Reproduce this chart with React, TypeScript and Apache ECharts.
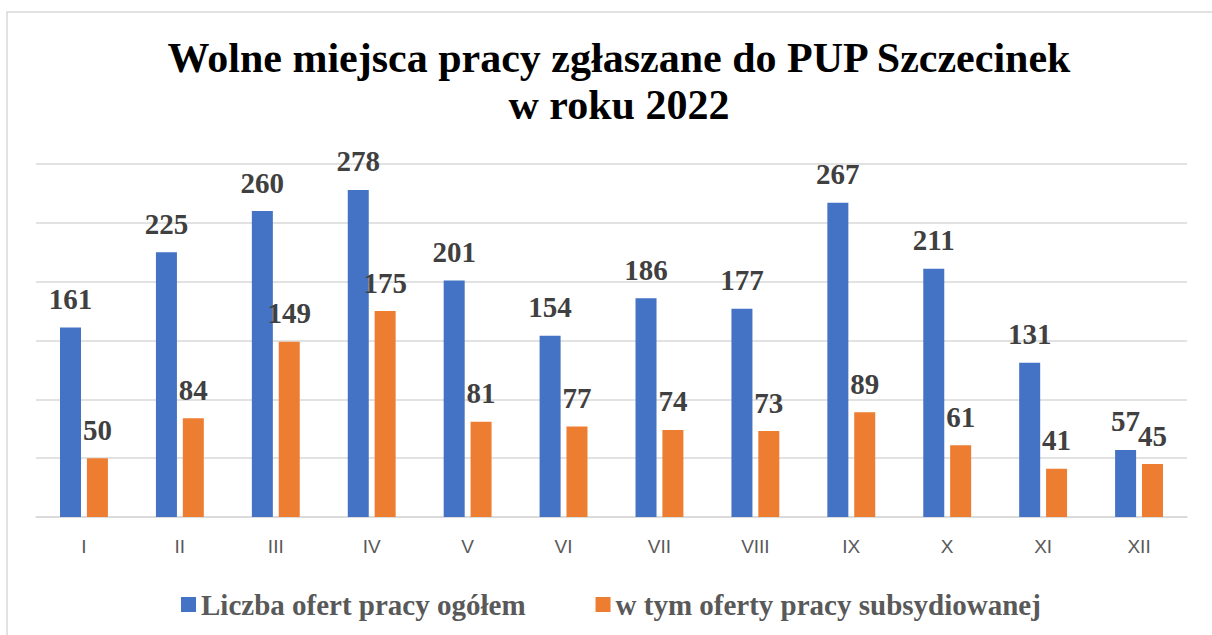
import React, { useEffect, useRef } from "react";
import * as echarts from "echarts";

const months = ["I", "II", "III", "IV", "V", "VI", "VII", "VIII", "IX", "X", "XI", "XII"];
const totalOffers = [161, 225, 260, 278, 201, 154, 186, 177, 267, 211, 131, 57];
const subsidizedOffers = [50, 84, 149, 175, 81, 77, 74, 73, 89, 61, 41, 45];
const seriesNames = ["Liczba ofert pracy ogółem", "w tym oferty pracy subsydiowanej"];
const titleText = "Wolne miejsca pracy zgłaszane do PUP Szczecinek\nw roku 2022";

const SERIF = "Liberation Serif, Times New Roman, serif";
const SANS = "Liberation Sans, Arial, sans-serif";

export default function App() {
  const ref = useRef<HTMLDivElement>(null);
  useEffect(() => {
    if (!ref.current) return;
    const chart = echarts.init(ref.current, null, { renderer: "svg" });
    const labelStyle = {
      show: true,
      position: "top" as const,
      distance: 14,
      fontFamily: SERIF,
      fontWeight: "bold" as const,
      fontSize: 29,
      color: "#404040",
    };
    chart.setOption({
      animation: false,
      backgroundColor: "#ffffff",
      title: {
        text: titleText,
        left: 614,
        top: 29,
        textAlign: "center",
        textStyle: {
          fontFamily: SERIF,
          fontWeight: "bold",
          fontSize: 42,
          lineHeight: 47,
          color: "#000000",
        },
      },
      graphic: [
        {
          type: "rect",
          shape: { x: 7, y: 12, width: 1400, height: 800 },
          style: { fill: "none", stroke: "#d9d9d9", lineWidth: 1.5 },
          silent: true,
        },
      ],
      legend: {
        left: 176,
        top: 585,
        itemWidth: 15,
        itemHeight: 15,
        itemGap: 70,
        icon: "rect",
        textStyle: {
          fontFamily: SERIF,
          fontWeight: "bold",
          fontSize: 29,
          color: "#595959",
        },
      },
      grid: { left: 36, right: 25, top: 164, bottom: 118, containLabel: false },
      xAxis: {
        type: "category",
        data: months,
        axisLine: { lineStyle: { color: "#d9d9d9", width: 1.5 } },
        axisTick: { show: false },
        axisLabel: { fontFamily: SANS, fontSize: 19, color: "#595959", margin: 20 },
      },
      yAxis: {
        type: "value",
        min: 0,
        max: 300,
        interval: 50,
        axisLabel: { show: false },
        axisLine: { show: false },
        axisTick: { show: false },
        splitLine: { lineStyle: { color: "#d9d9d9", width: 1.5 } },
      },
      series: [
        {
          name: seriesNames[0],
          type: "bar",
          data: totalOffers,
          barWidth: 21,
          barGap: "28%",
          itemStyle: { color: "#4472C4" },
          label: labelStyle,
        },
        {
          name: seriesNames[1],
          type: "bar",
          data: subsidizedOffers,
          barWidth: 21,
          barGap: "28%",
          itemStyle: { color: "#ED7D31" },
          label: labelStyle,
        },
      ],
    });
    return () => chart.dispose();
  }, []);
  return (
    <div
      ref={ref}
      style={{ position: "fixed", left: 0, top: 0, width: 1212, height: 635, background: "#fff" }}
    />
  );
}
